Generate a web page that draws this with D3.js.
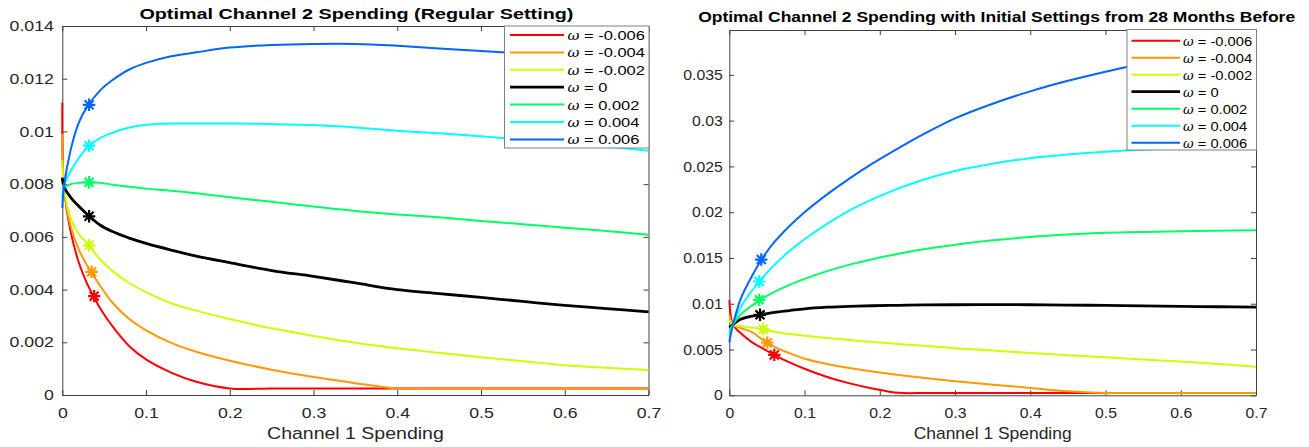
<!DOCTYPE html>
<html>
<head>
<meta charset="utf-8">
<script src="https://cdn.jsdelivr.net/npm/d3@7"></script>
<style>
  body { margin: 0; background: #fff; }
  svg { display: block; font-family: "Liberation Sans", Arial, sans-serif; }
</style>
</head>
<body>
<div id="viz"></div>
<script>
// series labels and colours (one per omega)
var omegas = ["-0.006", "-0.004", "-0.002", "0", "0.002", "0.004", "0.006"];
var colors = ["#ff0000", "#ff9900", "#ccff00", "#000000", "#00ff66", "#00ffff", "#0066ff"];

var xTicks = [0, 0.1, 0.2, 0.3, 0.4, 0.5, 0.6, 0.7];
var leftYTicks = [0, 0.002, 0.004, 0.006, 0.008, 0.01, 0.012, 0.014];
var rightYTicks = [0, 0.005, 0.01, 0.015, 0.02, 0.025, 0.03, 0.035];

// left panel (regular setting), y values in units of 1e-3
var leftX = [0, 0.002, 0.01, 0.02, 0.03, 0.045, 0.06, 0.08, 0.1, 0.13, 0.16, 0.2, 0.25, 0.3, 0.35, 0.4, 0.45, 0.5, 0.55, 0.6, 0.65, 0.7];
var leftRed    = [11.1, 7.9, 6.2, 5.0, 4.2, 3.3, 2.6, 1.85, 1.35, 0.85, 0.5, 0.25, 0.25, 0.25, 0.25, 0.25, 0.25, 0.25, 0.25, 0.25, 0.25, 0.25];
var leftOrange = [9.9, 7.9, 6.4, 5.5, 4.9, 4.15, 3.5, 2.88, 2.45, 1.98, 1.64, 1.3, 0.96, 0.68, 0.45, 0.25, 0.25, 0.25, 0.25, 0.25, 0.25, 0.25];
var leftYellow = [8.9, 7.9, 6.7, 6.1, 5.75, 5.15, 4.7, 4.25, 3.9, 3.48, 3.2, 2.88, 2.53, 2.24, 1.98, 1.77, 1.6, 1.43, 1.28, 1.13, 1.03, 0.95];
var leftBlack  = [8.25, 7.9, 7.5, 7.15, 6.85, 6.45, 6.2, 5.95, 5.75, 5.5, 5.27, 5.02, 4.72, 4.5, 4.25, 4.0, 3.85, 3.7, 3.55, 3.4, 3.28, 3.15];
var leftGreen  = [7.95, 7.9, 8.0, 8.05, 8.07, 8.05, 7.98, 7.9, 7.83, 7.75, 7.65, 7.5, 7.33, 7.15, 6.98, 6.85, 6.74, 6.6, 6.48, 6.35, 6.22, 6.08];
var leftCyan   = [7.5, 7.95, 8.5, 9.0, 9.4, 9.75, 9.95, 10.15, 10.25, 10.3, 10.3, 10.3, 10.28, 10.24, 10.15, 10.03, 9.93, 9.82, 9.68, 9.55, 9.42, 9.27];
var leftBlue   = [7.1, 7.9, 9.3, 10.35, 10.95, 11.55, 11.95, 12.35, 12.6, 12.85, 13.0, 13.18, 13.28, 13.32, 13.32, 13.25, 13.15, 13.05, 12.95, 12.85, 12.72, 12.6];
var leftStarX = [0.038, 0.035, 0.032, 0.032, 0.032, 0.032, 0.032];
var leftStarY = [3.75, 4.67, 5.68, 6.78, 8.07, 9.46, 11.01];

// right panel (initial settings from 28 months before), y in units of 1e-3
var rightX = [0, 0.005, 0.015, 0.03, 0.045, 0.06, 0.08, 0.1, 0.13, 0.16, 0.19, 0.225, 0.26, 0.3, 0.35, 0.4, 0.45, 0.5, 0.55, 0.6, 0.65, 0.7];
var rightRed    = [10.4, 7.7, 6.8, 5.8, 5.1, 4.4, 3.6, 2.9, 2.0, 1.3, 0.75, 0.27, 0.25, 0.25, 0.25, 0.25, 0.25, 0.25, 0.25, 0.25, 0.25, 0.25];
var rightOrange = [8.8, 7.7, 7.35, 6.9, 6.05, 5.3, 4.6, 4.0, 3.42, 2.98, 2.6, 2.22, 1.88, 1.53, 1.16, 0.8, 0.43, 0.25, 0.25, 0.25, 0.25, 0.25];
var rightYellow = [8.2, 7.7, 7.55, 7.4, 7.2, 6.95, 6.7, 6.5, 6.25, 6.03, 5.83, 5.6, 5.4, 5.15, 4.88, 4.62, 4.38, 4.15, 3.92, 3.68, 3.42, 3.12];
var rightBlack  = [7.4, 7.75, 8.3, 8.65, 8.85, 9.05, 9.25, 9.45, 9.62, 9.72, 9.78, 9.83, 9.87, 9.89, 9.9, 9.89, 9.86, 9.82, 9.77, 9.72, 9.67, 9.62];
var rightGreen  = [7.0, 7.75, 8.8, 9.8, 10.63, 11.3, 12.06, 12.72, 13.56, 14.27, 14.87, 15.46, 15.97, 16.45, 16.93, 17.3, 17.56, 17.75, 17.85, 17.92, 17.98, 18.03];
var rightCyan   = [6.5, 7.75, 9.6, 11.4, 12.9, 14.25, 15.75, 17.05, 18.73, 20.2, 21.4, 22.6, 23.6, 24.5, 25.3, 25.9, 26.3, 26.6, 26.82, 27.0, 27.13, 27.25];
var rightBlue   = [5.8, 7.75, 10.5, 13.0, 15.1, 16.75, 18.5, 20.0, 21.95, 23.7, 25.3, 27.0, 28.6, 30.25, 31.85, 33.2, 34.35, 35.35, 36.25, 37.05, 37.75, 38.4];
var rightStarX = [0.0598, 0.0505, 0.0452, 0.0408, 0.0398, 0.0398, 0.0425];
var rightStarY = [4.41, 5.75, 7.22, 8.79, 10.43, 12.43, 14.83];

var svg = d3.select("#viz")
  .append("svg")
    .attr("width", 1309)
    .attr("height", 447);

function drawPanel(p) {
  var x = d3.scaleLinear().domain([0, 0.7]).range([p.x0, p.x1]);
  var y = d3.scaleLinear().domain([0, p.yMax]).range([p.y0, p.y1]);
  var g = svg.append("g");
  var sx = p.stretch;

  // box ticks on top and right (no labels)
  g.append("g")
    .attr("transform", "translate(0," + p.y1 + ")")
    .call(d3.axisTop(x).tickValues(xTicks).tickSize(-5).tickSizeOuter(0).tickFormat(""));
  g.append("g")
    .attr("transform", "translate(" + p.x1 + ",0)")
    .call(d3.axisRight(y).tickValues(p.yTicks).tickSize(-5).tickSizeOuter(0).tickFormat(""));

  var xa = g.append("g")
    .attr("transform", "translate(0," + p.y0 + ")")
    .call(d3.axisBottom(x).tickValues(xTicks).tickSize(-5).tickSizeOuter(0).tickFormat(d3.format("")));
  xa.selectAll("text")
    .attr("y", 0).attr("dy", null)
    .attr("transform", "translate(0,23) scale(" + sx + ",1)");

  var ya = g.append("g")
    .attr("transform", "translate(" + p.x0 + ",0)")
    .call(d3.axisLeft(y).tickValues(p.yTicks).tickSize(-5).tickSizeOuter(0).tickFormat(d3.format("")));
  ya.selectAll("text")
    .attr("x", 0)
    .attr("transform", "translate(" + (-p.yGap) + ",0) scale(" + sx + ",1)");

  g.selectAll(".domain").attr("stroke", "#404040");
  g.selectAll(".tick line").attr("stroke", "#404040");
  g.selectAll(".tick text")
    .attr("font-size", null).attr("font-family", null)
    .style("font-size", "14.5px").attr("fill", "#262626");
  g.selectAll("g").attr("font-size", null).attr("font-family", null);

  // curves
  var line = d3.line()
    .x(function(d) { return x(d[0]); })
    .y(function(d) { return y(d[1] / 1000); })
    .curve(d3.curveCatmullRom.alpha(0.5));

  p.series.forEach(function(s, i) {
    var pts = p.xs.map(function(v, j) { return [v, s[j]]; });
    g.append("path")
      .datum(pts)
      .attr("d", line)
      .attr("fill", "none")
      .attr("stroke", colors[i])
      .attr("stroke-width", i == 3 ? 2.8 : 2)
      .attr("stroke-linejoin", "round");

    // '*' marker
    var cx = x(p.starX[i]), cy = y(p.starY[i] / 1000), r = 6.2, rd = r * 0.72;
    g.append("path")
      .attr("d", "M" + (cx - r) + "," + cy + "L" + (cx + r) + "," + cy +
                 "M" + cx + "," + (cy - r) + "L" + cx + "," + (cy + r) +
                 "M" + (cx - rd) + "," + (cy - rd) + "L" + (cx + rd) + "," + (cy + rd) +
                 "M" + (cx - rd) + "," + (cy + rd) + "L" + (cx + rd) + "," + (cy - rd))
      .attr("stroke", colors[i])
      .attr("stroke-width", 2.2)
      .attr("fill", "none");
  });

  // title
  g.append("text")
    .attr("x", (p.x0 + p.x1) / 2 + p.titleShift)
    .attr("y", p.titleY)
    .attr("text-anchor", "middle")
    .attr("textLength", p.titleWidth)
    .attr("lengthAdjust", "spacingAndGlyphs")
    .style("font-size", "14.5px")
    .style("font-weight", "bold")
    .attr("fill", "#000")
    .text(p.title);

  // x label
  g.append("text")
    .attr("transform", "translate(" + ((p.x0 + p.x1) / 2) + ",438.5) scale(" + sx + ",1)")
    .attr("text-anchor", "middle")
    .style("font-size", "16px")
    .attr("fill", "#262626")
    .text("Channel 1 Spending");

  // legend
  var L = p.legend;
  var lg = g.append("g");
  lg.append("rect")
    .attr("x", L.x).attr("y", L.y).attr("width", L.w).attr("height", L.h)
    .attr("fill", "#fff").attr("stroke", "#808080").attr("stroke-width", 1);
  omegas.forEach(function(o, i) {
    var ry = L.row0 + i * L.step;
    lg.append("line")
      .attr("x1", L.lx0).attr("x2", L.lx1).attr("y1", ry).attr("y2", ry)
      .attr("stroke", colors[i]).attr("stroke-width", i == 3 ? 2.8 : 2);
    var t = lg.append("text")
      .attr("transform", "translate(" + L.tx + "," + (ry + 5) + ") scale(" + sx + ",1)")
      .style("font-size", "13.5px")
      .attr("fill", "#000");
    t.append("tspan")
      .style("font-family", "'DejaVu Serif', serif")
      .style("font-style", "italic")
      .style("font-size", "12px")
      .text("\u03C9");
    t.append("tspan").text(" = " + o);
  });
}

drawPanel({
  x0: 62.3, x1: 648.5, y0: 395, y1: 26, yMax: 0.014,
  yTicks: leftYTicks, yGap: 8.5, stretch: 1.22,
  xs: leftX,
  series: [leftRed, leftOrange, leftYellow, leftBlack, leftGreen, leftCyan, leftBlue],
  starX: leftStarX, starY: leftStarY,
  title: "Optimal Channel 2 Spending (Regular Setting)",
  titleY: 19, titleWidth: 434, titleShift: 1,
  legend: {x: 504.5, y: 26, w: 144.5, h: 122, row0: 35, step: 17.4, lx0: 510, lx1: 564, tx: 567.5}
});

drawPanel({
  x0: 729.3, x1: 1256, y0: 395.3, y1: 30, yMax: 0.0399,
  yTicks: rightYTicks, yGap: 6.5, stretch: 1.09,
  xs: rightX,
  series: [rightRed, rightOrange, rightYellow, rightBlack, rightGreen, rightCyan, rightBlue],
  starX: rightStarX, starY: rightStarY,
  title: "Optimal Channel 2 Spending with Initial Settings from 28 Months Before",
  titleY: 22, titleWidth: 597, titleShift: 4,
  legend: {x: 1127, y: 29.5, w: 129.5, h: 120.5, row0: 40.7, step: 17, lx0: 1131.5, lx1: 1180, tx: 1183}
});
</script>
</body>
</html>
